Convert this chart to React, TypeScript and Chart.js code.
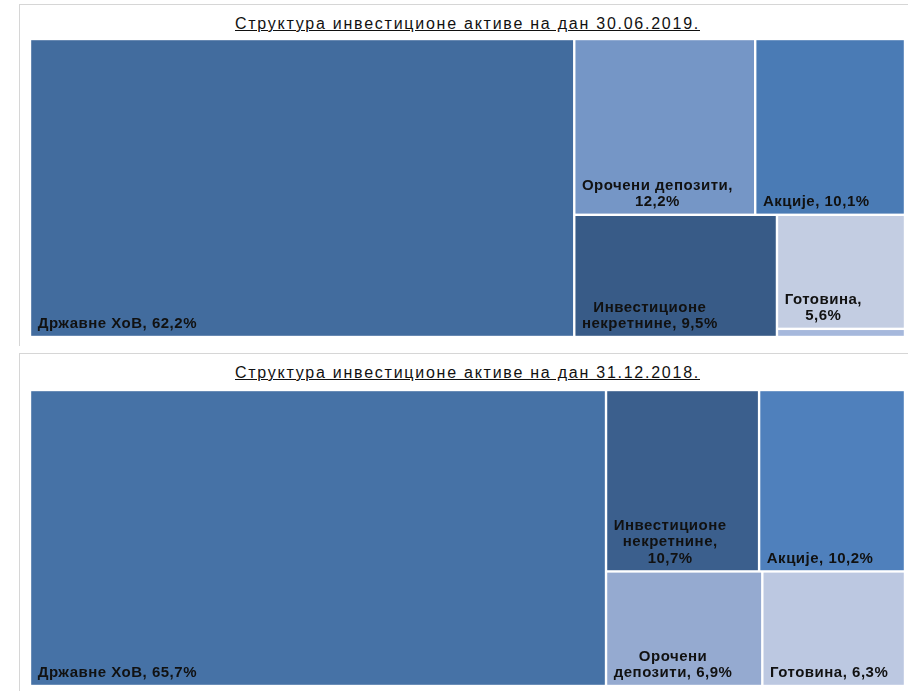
import React, { useEffect, useRef } from "react";
import { Chart, registerables } from "chart.js";

Chart.register(...registerables);

// ---- Data: 30.06.2019 ----
const titleJun = "Структура инвестиционе активе на дан 30.06.2019.";
const categoriesJun = ["Државне ХоВ", "Орочени депозити", "Акције", "Инвестиционе некретнине", "Готовина", ""];
const valuesJun = [62.2, 12.2, 10.1, 9.5, 5.6, 0.4];
const colorsJun = ["#426C9E", "#7596C6", "#4A7BB5", "#385B87", "#C3CDE2", "#A6B8DC"];

// ---- Data: 31.12.2018 ----
const titleDec = "Структура инвестиционе активе на дан 31.12.2018.";
const categoriesDec = ["Државне ХоВ", "Инвестиционе некретнине", "Акције", "Орочени депозити", "Готовина"];
const valuesDec = [65.7, 10.7, 10.2, 6.9, 6.3];
const colorsDec = ["#4672A6", "#3B5F8D", "#4F80BC", "#95AAD0", "#BCC8E1"];

type R = { x: number; y: number; w: number; h: number };

// Squarified layout, alternating strip orientation (column first)
function squarify(values: number[], W: number, H: number): R[] {
  const rects: R[] = [];
  let x = 0, y = 0, w = W, h = H;
  let remaining = values.reduce((a, b) => a + b, 0);
  let i = 0;
  let vertical = true;
  const sum = (a: number[]) => a.reduce((p, q) => p + q, 0);
  while (i < values.length) {
    const worst = (row: number[]) => {
      const s = sum(row);
      const t = vertical ? (s / remaining) * w : (s / remaining) * h;
      const L = vertical ? h : w;
      let m = 0;
      for (const v of row) {
        const l = (v / s) * L;
        m = Math.max(m, t / l, l / t);
      }
      return m;
    };
    let row = [values[i]];
    let best = worst(row);
    let j = i + 1;
    while (j < values.length) {
      const c = [...row, values[j]];
      const wc = worst(c);
      if (wc <= best) {
        row = c;
        best = wc;
        j++;
      } else break;
    }
    const s = sum(row);
    if (vertical) {
      const t = (s / remaining) * w;
      let cy = y;
      for (const v of row) {
        const l = (v / s) * h;
        rects.push({ x, y: cy, w: t, h: l });
        cy += l;
      }
      x += t;
      w -= t;
    } else {
      const t = (s / remaining) * h;
      let cx = x;
      for (const v of row) {
        const l = (v / s) * w;
        rects.push({ x: cx, y, w: l, h: t });
        cx += l;
      }
      y += t;
      h -= t;
    }
    remaining -= s;
    i = j;
    vertical = !vertical;
  }
  return rects;
}

const FONT = "bold 15px 'Liberation Sans', Arial, sans-serif";
const PAD = 6.5;
const LINE_H = 16.5;
const BOTTOM_OFF = 7.5;
const GAP = 1.2;

function wrap(ctx: CanvasRenderingContext2D, text: string, maxW: number): string[] {
  const words = text.split(" ");
  const lines: string[] = [];
  let cur = "";
  for (const wd of words) {
    const test = cur ? cur + " " + wd : wd;
    if (cur && ctx.measureText(test).width > maxW) {
      lines.push(cur);
      cur = wd;
    } else cur = test;
  }
  if (cur) lines.push(cur);
  return lines;
}

const treemapPlugin = {
  id: "treemapCells",
  afterDatasetsDraw(chart: any) {
    const ds = chart.data.datasets[0];
    const values: number[] = ds.treeValues;
    const names: string[] = ds.treeNames;
    const colors: string[] = ds.treeColors;
    const area = chart.chartArea;
    const aspect = (area.right - area.left) / (area.bottom - area.top);
    const rects = squarify(values, aspect, 1);
    const xs = chart.scales.x;
    const ys = chart.scales.y;
    const ctx: CanvasRenderingContext2D = chart.ctx;
    ctx.save();
    rects.forEach((r, k) => {
      const x0 = xs.getPixelForValue((r.x / aspect) * 100) + GAP;
      const x1 = xs.getPixelForValue(((r.x + r.w) / aspect) * 100) - GAP;
      const y0 = ys.getPixelForValue(r.y * 100) + GAP;
      const y1 = ys.getPixelForValue((r.y + r.h) * 100) - GAP;
      ctx.fillStyle = colors[k];
      ctx.fillRect(x0, y0, x1 - x0, y1 - y0);
      if (!names[k]) return;
      const label = `${names[k]}, ${values[k].toFixed(1).replace(".", ",")}%`;
      ctx.font = FONT;
      (ctx as any).letterSpacing = "0.5px";
      const lines = wrap(ctx, label, x1 - x0 - 2 * PAD);
      const bw = Math.max(...lines.map((l) => ctx.measureText(l).width));
      const cx = x0 + PAD + bw / 2;
      ctx.fillStyle = "#111111";
      ctx.textAlign = "center";
      ctx.textBaseline = "alphabetic";
      lines.forEach((ln, li) => {
        const by = y1 - BOTTOM_OFF - (lines.length - 1 - li) * LINE_H;
        ctx.fillText(ln, cx, by);
      });
    });
    ctx.restore();
  },
};

function Treemap({ names, values, colors, width, height }: { names: string[]; values: number[]; colors: string[]; width: number; height: number }) {
  const ref = useRef<HTMLCanvasElement>(null);
  useEffect(() => {
    if (!ref.current) return;
    const chart = new Chart(ref.current, {
      type: "scatter",
      data: {
        datasets: [
          {
            data: [],
            treeValues: values,
            treeNames: names,
            treeColors: colors,
          } as any,
        ],
      },
      options: {
        animation: false,
        responsive: false,
        layout: { padding: 0 },
        scales: {
          x: { type: "linear", min: 0, max: 100, display: false },
          y: { type: "linear", min: 0, max: 100, reverse: true, display: false },
        },
        plugins: { legend: { display: false }, tooltip: { enabled: false } },
      },
      plugins: [treemapPlugin],
    });
    return () => chart.destroy();
  }, []);
  return <canvas ref={ref} width={width} height={height} style={{ width, height, display: "block" }} />;
}

function Panel({ top, title, names, values, colors, canvasTop, canvasH }: any) {
  return (
    <>
      <div
        style={{
          position: "absolute",
          left: 19,
          top,
          width: 900,
          height: 600,
          border: "1px solid #d6d6d6",
          boxSizing: "border-box",
          background: "#fff",
        }}
      />
      <div
        style={{
          position: "absolute",
          left: 30,
          width: 875,
          top: top + 11,
          textAlign: "center",
          font: "16px 'Liberation Sans', Arial, sans-serif",
          lineHeight: "18px",
          letterSpacing: "1.75px",
          color: "#111",
          textDecoration: "underline",
        }}
      >
        {title}
      </div>
      <div style={{ position: "absolute", left: 30, top: canvasTop }}>
        <Treemap names={names} values={values} colors={colors} width={875} height={canvasH} />
      </div>
    </>
  );
}

export default function App() {
  return (
    <div style={{ position: "absolute", left: 0, top: 0, width: 908, height: 691, overflow: "hidden", background: "#fff" }}>
      <div style={{ position: "absolute", left: 0, top: 0, width: 908, height: 346, overflow: "hidden" }}>
        <Panel top={4} title={titleJun} names={categoriesJun} values={valuesJun} colors={colorsJun} canvasTop={39} canvasH={298} />
      </div>
      <div style={{ position: "absolute", left: 0, top: 346, width: 908, height: 345, overflow: "hidden" }}>
        <Panel top={7} title={titleDec} names={categoriesDec} values={valuesDec} colors={colorsDec} canvasTop={44} canvasH={296} />
      </div>
    </div>
  );
}
